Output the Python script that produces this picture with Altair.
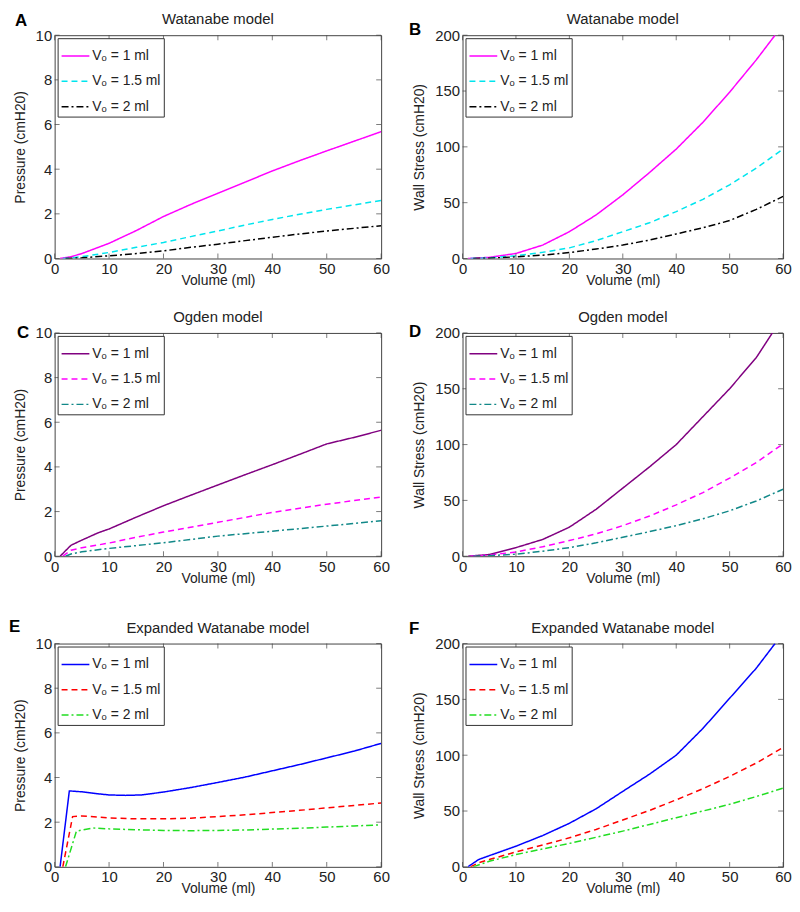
import altair as alt
import pandas as pd

# ---------------- data ----------------
series_labels = ["V\u2092 = 1 ml", "V\u2092 = 1.5 ml", "V\u2092 = 2 ml"]
x_ticks = [0, 10, 20, 30, 40, 50, 60]
p_ticks = [0, 2, 4, 6, 8, 10]
s_ticks = [0, 50, 100, 150, 200]

# A: Watanabe, pressure
A_v1 = [1, 3, 5, 10, 15, 20, 25, 30, 35, 40, 45, 50, 55, 60]
A_y1 = [0, 0.08, 0.22, 0.68, 1.25, 1.88, 2.42, 2.92, 3.42, 3.92, 4.38, 4.82, 5.25, 5.68]
A_v15 = [1.5, 3, 5, 10, 15, 20, 25, 30, 35, 40, 45, 50, 55, 60]
A_y15 = [0, 0.02, 0.08, 0.27, 0.5, 0.72, 0.98, 1.23, 1.5, 1.75, 1.98, 2.2, 2.4, 2.6]
A_v2 = [2, 3, 5, 10, 15, 20, 25, 30, 35, 40, 45, 50, 55, 60]
A_y2 = [0, 0.01, 0.03, 0.12, 0.22, 0.34, 0.5, 0.64, 0.8, 0.95, 1.1, 1.23, 1.35, 1.47]

# B: Watanabe, wall stress
B_v1 = [1, 5, 10, 15, 20, 25, 30, 35, 40, 45, 50, 55, 58.5]
B_y1 = [0, 1, 4.5, 12, 24, 39, 57, 77, 98, 122, 149, 178, 200]
B_v15 = [1.5, 5, 10, 15, 20, 25, 30, 35, 40, 45, 50, 55, 60]
B_y15 = [0, 0.5, 2.4, 5.5, 9.5, 16, 24, 32, 42, 53, 66, 81, 98]
B_v2 = [2, 5, 10, 15, 20, 25, 30, 35, 40, 45, 50, 55, 60]
B_y2 = [0, 0.3, 1.5, 3, 5.3, 8.5, 12, 16.5, 22, 27.5, 34, 44, 55.6]

# C: Ogden, pressure
C_v1 = [1, 3, 5, 8, 10, 15, 20, 25, 30, 35, 40, 45, 50, 55, 60]
C_y1 = [0, 0.49, 0.72, 1.05, 1.22, 1.75, 2.26, 2.73, 3.19, 3.65, 4.1, 4.56, 5.03, 5.32, 5.64]
C_v15 = [1.5, 3, 5, 10, 15, 20, 30, 40, 50, 60]
C_y15 = [0, 0.27, 0.38, 0.59, 0.85, 1.08, 1.52, 1.96, 2.33, 2.65]
C_v2 = [2, 3, 5, 10, 20, 30, 40, 50, 60]
C_y2 = [0, 0.1, 0.2, 0.35, 0.6, 0.9, 1.12, 1.35, 1.59]

# D: Ogden, wall stress
D_v1 = [1, 5, 10, 15, 20, 25, 30, 35, 40, 45, 50, 55, 58]
D_y1 = [0, 1.5, 7.7, 15, 26, 42, 61, 80, 100, 125, 150, 178, 200]
D_v15 = [1.5, 5, 10, 15, 20, 25, 30, 35, 40, 45, 50, 55, 60]
D_y15 = [0, 1, 3.8, 8.5, 14, 20, 27.4, 36, 46, 57, 70, 84, 100.6]
D_v2 = [2, 5, 10, 15, 20, 25, 30, 35, 40, 45, 50, 55, 60]
D_y2 = [0, 0.5, 1.8, 4.5, 7.7, 12, 17, 22, 27.4, 33.5, 40.7, 49.5, 60]

# E: Expanded Watanabe, pressure
E_v1 = [1, 2.7, 5, 8, 10, 13, 16, 20, 25, 30, 35, 40, 45, 50, 55, 60]
E_y1 = [0, 3.4, 3.36, 3.27, 3.22, 3.2, 3.22, 3.35, 3.55, 3.78, 4.02, 4.3, 4.58, 4.88, 5.18, 5.53]
E_v15 = [1.5, 3.3, 5, 10, 15, 20, 25, 30, 35, 40, 45, 50, 55, 60]
E_y15 = [0, 2.25, 2.28, 2.19, 2.15, 2.15, 2.18, 2.25, 2.33, 2.43, 2.53, 2.64, 2.75, 2.86]
E_v2 = [2, 4, 7, 10, 15, 20, 25, 30, 35, 40, 45, 50, 55, 60]
E_y2 = [0, 1.6, 1.74, 1.7, 1.66, 1.63, 1.62, 1.63, 1.65, 1.69, 1.73, 1.78, 1.83, 1.88]

# F: Expanded Watanabe, wall stress
F_v1 = [1, 3, 5, 10, 15, 20, 25, 30, 35, 40, 45, 50, 55, 58.5]
F_y1 = [0, 6.5, 10, 18.5, 28, 39, 52, 67.6, 83, 100, 124, 151, 178, 200]
F_v15 = [1.5, 3, 5, 10, 15, 20, 25, 30, 35, 40, 45, 50, 55, 60]
F_y15 = [0, 3.6, 6.5, 13.4, 19.5, 26, 33.5, 42, 50.5, 60, 70, 81, 93, 107]
F_v2 = [2, 5, 10, 15, 20, 25, 30, 35, 40, 45, 50, 55, 60]
F_y2 = [0, 5, 11, 16, 21, 26.5, 32, 38, 44, 50, 56, 63, 70.5]

# ---------------- styling ----------------
FONT = "Liberation Sans"
TXT = "#222222"
H = 225
W_LEFT, W_RIGHT = 329, 323
dashes = [[1, 0], [6, 4], [7, 3, 2, 3]]
col_wat = ["#ff00ff", "#00e5ee", "#000000"]
col_ogd = ["#800080", "#ff00ff", "#118888"]
col_exp = ["#0000ff", "#ff0000", "#22dd22"]


def make_df(vs, ys):
    rows = []
    for lab, v, y in zip(series_labels, vs, ys):
        for a, b in zip(v, y):
            rows.append({"vol": a, "val": b, "series": lab})
    return pd.DataFrame(rows)


def panel(letter, lpos, title, ytitle, ymax, yticks, vs, ys, colors, W):
    df = make_df(vs, ys)
    leg = alt.Legend(
        title=None, orient="top-left", offset=3, padding=3,
        fillColor="white", strokeColor="#333333", cornerRadius=0,
        symbolType="stroke", symbolSize=784, symbolStrokeWidth=1.5,
        labelFont=FONT, labelFontSize=14, labelColor=TXT,
        labelOffset=2, rowPadding=3.5, labelLimit=200,
    )
    xs = alt.Scale(domain=[0, 60], nice=False, zero=False)
    ysc = alt.Scale(domain=[0, ymax], nice=False)
    lines = alt.Chart(df).mark_line(clip=True, strokeWidth=1.5).encode(
        x=alt.X("vol:Q", scale=xs,
                axis=alt.Axis(values=x_ticks, title="Volume (ml)", titlePadding=-3,
                              labelPadding=3)),
        y=alt.Y("val:Q", scale=ysc,
                axis=alt.Axis(values=yticks, title=ytitle, titlePadding=8,
                              labelPadding=3)),
        color=alt.Color("series:N", scale=alt.Scale(domain=series_labels, range=colors),
                        legend=leg),
        strokeDash=alt.StrokeDash("series:N",
                                  scale=alt.Scale(domain=series_labels, range=dashes),
                                  legend=leg),
    )
    xt = pd.DataFrame({"vol": x_ticks})
    yt = pd.DataFrame({"val": yticks})
    tick_style = dict(size=5, thickness=1, color="#444444")
    tb = alt.Chart(xt).mark_tick(orient="vertical", **tick_style).encode(
        x=alt.X("vol:Q", scale=xs), y=alt.value(H - 2.5))
    tt = alt.Chart(xt).mark_tick(orient="vertical", **tick_style).encode(
        x=alt.X("vol:Q", scale=xs), y=alt.value(2.5))
    tl = alt.Chart(yt).mark_tick(orient="horizontal", **tick_style).encode(
        y=alt.Y("val:Q", scale=ysc), x=alt.value(2.5))
    tr = alt.Chart(yt).mark_tick(orient="horizontal", **tick_style).encode(
        y=alt.Y("val:Q", scale=ysc), x=alt.value(W - 2.5))
    lt = alt.Chart(pd.DataFrame({"l": [letter]})).mark_text(
        font=FONT, fontSize=17, fontWeight="bold", align="left", baseline="alphabetic",
        color="black").encode(text="l:N", x=alt.value(lpos[0]), y=alt.value(lpos[1]))
    tt_ = alt.Chart(pd.DataFrame({"t": [title]})).mark_text(
        font=FONT, fontSize=15, align="center", baseline="alphabetic",
        color=TXT).encode(text="t:N", x=alt.value(W / 2), y=alt.value(-11))
    return alt.layer(lines, tb, tt, tl, tr, lt, tt_).properties(width=W, height=H)


pA = panel("A", (-40, -9), "Watanabe model", "Pressure (cmH20)", 10, p_ticks,
           [A_v1, A_v15, A_v2], [A_y1, A_y15, A_y2], col_wat, W_LEFT)
pB = panel("B", (-54, 0), "Watanabe model", "Wall Stress (cmH20)", 200, s_ticks,
           [B_v1, B_v15, B_v2], [B_y1, B_y15, B_y2], col_wat, W_RIGHT)
pC = panel("C", (-38, 5), "Ogden model", "Pressure (cmH20)", 10, p_ticks,
           [C_v1, C_v15, C_v2], [C_y1, C_y15, C_y2], col_ogd, W_LEFT)
pD = panel("D", (-54, 4), "Ogden model", "Wall Stress (cmH20)", 200, s_ticks,
           [D_v1, D_v15, D_v2], [D_y1, D_y15, D_y2], col_ogd, W_RIGHT)
pE = panel("E", (-46, -12), "Expanded Watanabe model", "Pressure (cmH20)", 10, p_ticks,
           [E_v1, E_v15, E_v2], [E_y1, E_y15, E_y2], col_exp, W_LEFT)
pF = panel("F", (-54, -10), "Expanded Watanabe model", "Wall Stress (cmH20)", 200, s_ticks,
           [F_v1, F_v15, F_v2], [F_y1, F_y15, F_y2], col_exp, W_RIGHT)

RES = dict(color="independent", strokeDash="independent", x="independent", y="independent")
LRES = dict(color="independent", strokeDash="independent")


def row(a, b):
    return alt.hconcat(a, b, spacing=18).resolve_scale(**RES).resolve_legend(**LRES)


top = alt.vconcat(row(pA, pB), row(pC, pD), spacing=21).resolve_scale(**RES).resolve_legend(**LRES)

chart = alt.vconcat(top, row(pE, pF), spacing=31).resolve_scale(**RES).resolve_legend(
    **LRES
).properties(
    padding={"left": 0, "top": 0, "right": 0, "bottom": 0}, background="white"
).configure_view(stroke="#444444", strokeWidth=1).configure_axis(
    grid=False, ticks=False, domain=False,
    labelFont=FONT, labelFontSize=15, labelColor=TXT,
    titleFont=FONT, titleFontSize=14, titleFontWeight="normal", titleColor=TXT,
    labelFlush=False, labelOverlap=False,
)

chart.save("out.html", embed_options={"renderer": "svg", "actions": False})
